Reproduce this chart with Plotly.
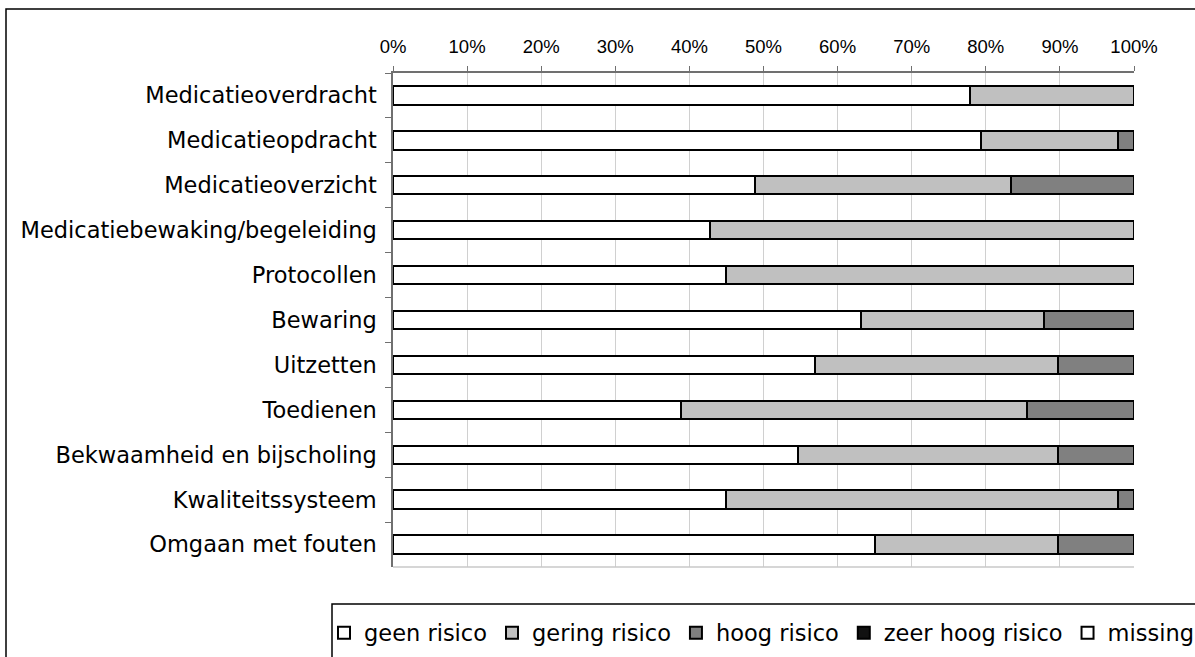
import plotly.graph_objects as go

# ------------------------------------------------------------
# data (percentages per onderdeel)
# ------------------------------------------------------------
onderdelen = [
    "Medicatieoverdracht",
    "Medicatieopdracht",
    "Medicatieoverzicht",
    "Medicatiebewaking/begeleiding",
    "Protocollen",
    "Bewaring",
    "Uitzetten",
    "Toedienen",
    "Bekwaamheid en bijscholing",
    "Kwaliteitssysteem",
    "Omgaan met fouten",
]
geen_risico = [77.8, 79.4, 48.9, 42.8, 44.9, 63.2, 57.0, 38.9, 54.7, 44.9, 65.1]
gering_risico = [22.2, 18.5, 34.5, 57.2, 55.1, 24.6, 32.7, 46.7, 35.0, 52.9, 24.6]
hoog_risico = [0.0, 2.1, 16.6, 0.0, 0.0, 12.2, 10.3, 14.4, 10.3, 2.2, 10.3]
zeer_hoog_risico = [0.0] * 11
missing = [0.0] * 11

x_ticks = [0, 10, 20, 30, 40, 50, 60, 70, 80, 90, 100]
x_labels = ["0%", "10%", "20%", "30%", "40%", "50%", "60%", "70%", "80%", "90%", "100%"]

W, H = 1195, 657
L, R, T, B = 393, 61, 73, 90
pw, ph = W - L - R, H - T - B


def px_x(v):
    return (v - L) / pw


def px_y(v):
    return (H - B - v) / ph


series = [
    ("geen risico", geen_risico, "#FFFFFF"),
    ("gering risico", gering_risico, "#C0C0C0"),
    ("hoog risico", hoog_risico, "#808080"),
    ("zeer hoog risico", zeer_hoog_risico, "#111111"),
    ("missing", missing, "#FFFFFF"),
]

fig = go.Figure()
for naam, waarden, kleur in series:
    fig.add_trace(go.Bar(
        y=onderdelen, x=waarden, name=naam, orientation="h",
        marker=dict(color=kleur, line=dict(color="#000000", width=2)),
    ))

fig.update_layout(
    barmode="stack", bargap=0.59,
    width=W, height=H,
    margin=dict(l=L, r=R, t=T, b=B, autoexpand=False),
    paper_bgcolor="white", plot_bgcolor="white",
    font=dict(family="DejaVu Sans", size=22.5, color="#000000"),
    showlegend=True,
    legend=dict(
        orientation="h", traceorder="normal",
        x=px_x(324), y=px_y(633), xanchor="left", yanchor="middle",
        bgcolor="rgba(0,0,0,0)", borderwidth=0,
        font=dict(family="DejaVu Sans", size=22.5, color="#000000"),
    ),
)

fig.update_xaxes(
    side="top", range=[0, 100], tickmode="array", tickvals=x_ticks, ticktext=x_labels,
    tickfont=dict(family="Liberation Sans Narrow, Liberation Sans", size=18.5),
    ticks="outside", ticklen=5, tickcolor="#707070", ticklabelstandoff=6,
    showline=True, linecolor="#707070", linewidth=1.5,
    showgrid=True, gridcolor="#D0D0D0", gridwidth=1,
    zeroline=False, fixedrange=True,
)
fig.update_yaxes(
    autorange="reversed", tickson="boundaries",
    ticks="outside", ticklen=6, tickcolor="#707070",
    showline=True, linecolor="#707070", linewidth=1.5,
    showgrid=False, ticklabelstandoff=10, fixedrange=True,
)

# onderrand van het plotvlak, lichtgrijs
fig.add_shape(type="line", xref="paper", yref="paper", x0=0, x1=1, y0=0, y1=0,
              line=dict(color="#C8C8C8", width=1.5))
# kader van de grafiek (loopt buiten beeld door)
fig.add_shape(type="rect", xref="paper", yref="paper",
              x0=px_x(6), x1=px_x(W + 60), y0=px_y(H + 60), y1=px_y(9),
              line=dict(color="#000000", width=1.5))
# kader rond de legenda
fig.add_shape(type="rect", xref="paper", yref="paper",
              x0=px_x(332), x1=px_x(W + 60), y0=px_y(H + 60), y1=px_y(604),
              line=dict(color="#000000", width=1.5))

fig.write_html("out.html", config={"displayModeBar": False},
               post_script="document.body.style.margin='0';")
